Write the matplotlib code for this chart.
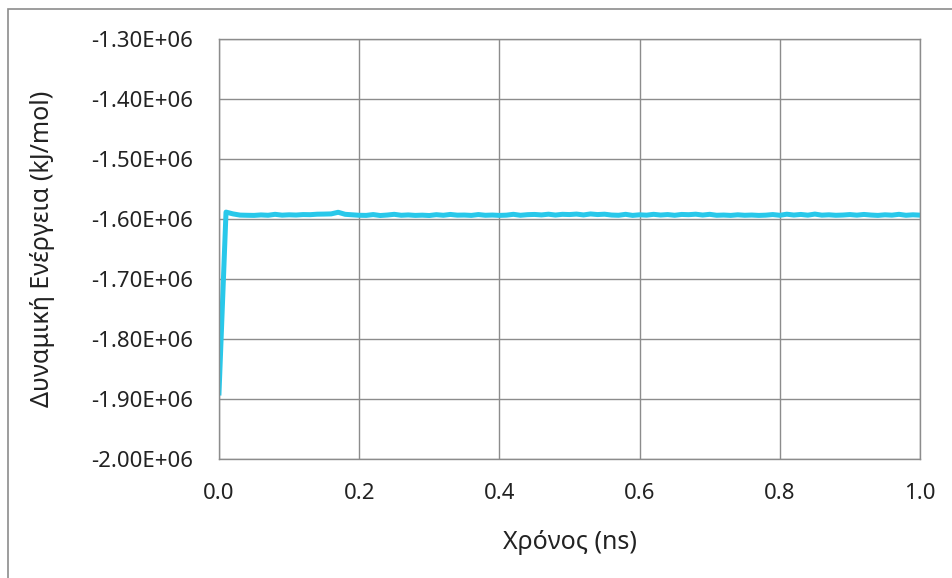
import numpy as np
import matplotlib
matplotlib.use("Agg")
from matplotlib import pyplot as plt
from matplotlib.patches import Rectangle

# time in ns, potential energy in kJ/mol
time_ns = np.round(np.arange(0, 101) * 0.01, 2)
energy = [
    -1.8900, -1.5885, -1.5915, -1.5935, -1.5938, -1.5940, -1.5932, -1.5938, -1.5922, -1.5936,
    -1.5930, -1.5934, -1.5926, -1.5928, -1.5920, -1.5918, -1.5915, -1.5888, -1.5922, -1.5930,
    -1.5938, -1.5940, -1.5926, -1.5942, -1.5934, -1.5922, -1.5938, -1.5932, -1.5940, -1.5936,
    -1.5942, -1.5928, -1.5938, -1.5924, -1.5936, -1.5934, -1.5940, -1.5926, -1.5938, -1.5934,
    -1.5940, -1.5936, -1.5922, -1.5938, -1.5928, -1.5924, -1.5932, -1.5920, -1.5934, -1.5922,
    -1.5926, -1.5918, -1.5932, -1.5916, -1.5926, -1.5920, -1.5934, -1.5938, -1.5922, -1.5940,
    -1.5930, -1.5936, -1.5922, -1.5934, -1.5926, -1.5938, -1.5924, -1.5928, -1.5920, -1.5934,
    -1.5922, -1.5938, -1.5934, -1.5940, -1.5930, -1.5938, -1.5934, -1.5940, -1.5936, -1.5926,
    -1.5938, -1.5920, -1.5934, -1.5924, -1.5936, -1.5918, -1.5936, -1.5930, -1.5938, -1.5934,
    -1.5926, -1.5936, -1.5924, -1.5934, -1.5940, -1.5930, -1.5936, -1.5922, -1.5938, -1.5930,
    -1.5936,
]
energy = np.array(energy) * 1e6

y_ticks = [-2.0e6, -1.9e6, -1.8e6, -1.7e6, -1.6e6, -1.5e6, -1.4e6, -1.3e6]
x_ticks = [0.0, 0.2, 0.4, 0.6, 0.8, 1.0]

plt.rcParams["font.family"] = ["Noto Sans", "DejaVu Sans"]

fig = plt.figure(figsize=(9.53, 5.78), dpi=100)
ax = fig.add_axes([219 / 953, 1 - 459 / 578, 701 / 953, 420 / 578])

ax.plot(time_ns, energy, color="#29C8EA", linewidth=3.6, solid_joinstyle="round")

ax.set_xlim(0, 1.0)
ax.set_ylim(-2.0e6, -1.3e6)
ax.set_xticks(x_ticks)
ax.set_xticklabels([f"{v:.1f}" for v in x_ticks])
ax.set_yticks(y_ticks)
ax.set_yticklabels([f"{v / 1e6:.2f}E+06" for v in y_ticks])
ax.tick_params(length=0, labelsize=16, colors="#222222")
ax.tick_params(axis="y", pad=18.5)
ax.tick_params(axis="x", pad=17)
ax.grid(True, color="#8c8c8c", linewidth=1)
ax.set_axisbelow(True)
for s in ax.spines.values():
    s.set_color("#8c8c8c")
    s.set_linewidth(1)

ax.set_xlabel("Χρόνος (ns)", fontsize=18, labelpad=19, color="#222222")
ax.set_ylabel("Δυναμική Ενέργεια (kJ/mol)", fontsize=18, labelpad=26, color="#222222")

# outer chart border, right and bottom edges fall outside the picture
fig.patches.append(Rectangle((8 / 953, -10 / 578), 960 / 953, 579 / 578, transform=fig.transFigure,
                             fill=False, edgecolor="#8c8c8c", linewidth=1.2))

plt.savefig("out.png", dpi=100)
